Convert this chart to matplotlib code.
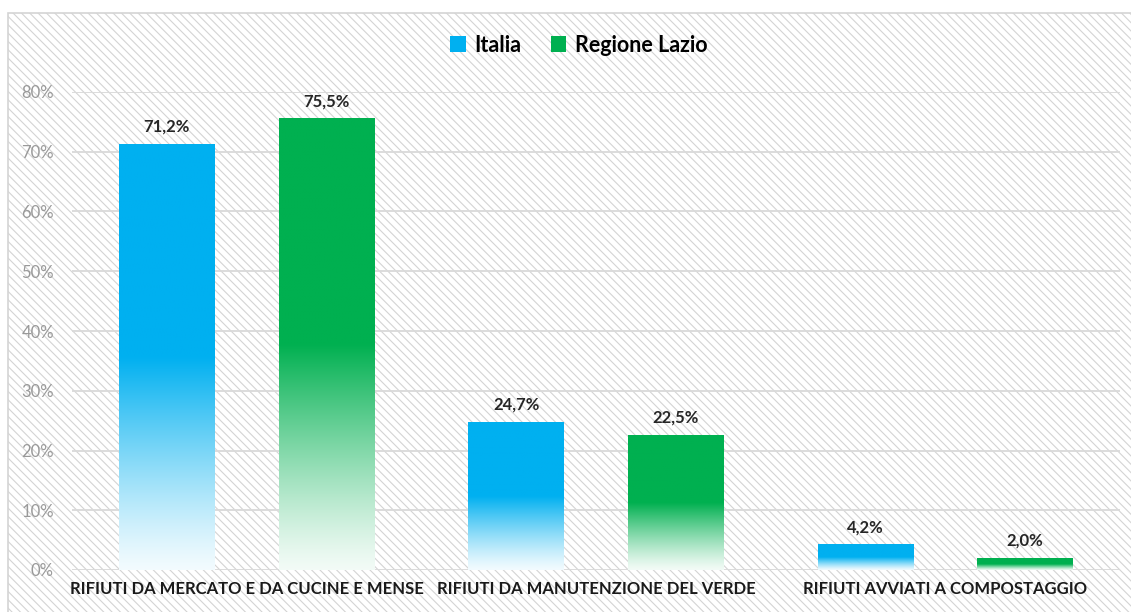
import numpy as np
import matplotlib.pyplot as plt
from matplotlib.patches import Patch, Rectangle
from matplotlib.colors import to_rgb

plt.rcParams['font.family'] = ['Lato', 'DejaVu Sans']
plt.rcParams['hatch.linewidth'] = 0.8
plt.rcParams['hatch.color'] = '#cccccc'

# data
categories = ['RIFIUTI DA MERCATO E DA CUCINE E MENSE',
              'RIFIUTI DA MANUTENZIONE DEL VERDE',
              'RIFIUTI AVVIATI A COMPOSTAGGIO']
italia = [71.2, 24.7, 4.2]
lazio = [75.5, 22.5, 2.0]
series_names = ['Italia', 'Regione Lazio']
series_colors = ['#00B0F0', '#00B050']
yticks = [0, 10, 20, 30, 40, 50, 60, 70, 80]

W, H = 1131, 612
fig = plt.figure(figsize=(W / 100, H / 100), dpi=100)

# hatched chart area background
bg = Rectangle((8 / W, -0.01), 1 - 8 / W + 0.01, 1 - 13 / H + 0.01, transform=fig.transFigure,
               facecolor='white', edgecolor='#d4d4d4', hatch='\\' * 4,
               linewidth=1.2, zorder=0)
fig.patches.append(bg)

ax = fig.add_axes([72 / W, 1 - 570 / H, (1120 - 72) / W, (570 - 92) / H])
ax.set_facecolor('none')
ax.set_zorder(2)

x = np.arange(len(categories))
bw = 0.273
off = 0.2285


def gradient_bar(ax, bars, color):
    rgb = np.array(to_rgb(color))
    n = 200
    t = np.linspace(0, 1, n)  # 0 bottom, 1 top
    frac = np.clip(t / 0.5, 0, 1) ** 1.2
    light = rgb * 0.05 + np.array([1, 1, 1]) * 0.95
    cols = light[None, :] * (1 - frac[:, None]) + rgb[None, :] * frac[:, None]
    img = cols[:, None, :]
    for b in bars:
        x0, w, h = b.get_x(), b.get_width(), b.get_height()
        ax.imshow(img, extent=[x0, x0 + w, 0, h], origin='lower',
                  aspect='auto', zorder=3, interpolation='bilinear')


for vals, sgn, col in [(italia, -1, series_colors[0]), (lazio, 1, series_colors[1])]:
    bars = ax.bar(x + sgn * off, vals, bw, color='none', edgecolor='none', zorder=3)
    gradient_bar(ax, bars, col)
    for b, v in zip(bars, vals):
        ax.annotate(f'{v:.1f}%'.replace('.', ','),
                    (b.get_x() + b.get_width() / 2, b.get_height()),
                    xytext=(0, 7), textcoords='offset points',
                    ha='center', va='bottom', fontsize=12, fontweight='bold',
                    color='#262626', zorder=5)

ax.set_xlim(-0.5, 2.5)
ax.set_ylim(0, 80)
ax.set_yticks(yticks)
ax.set_yticklabels([f'{v}%' for v in yticks], color='#999999', fontsize=12)
ax.set_xticks(x)
ax.set_xticklabels(categories, fontsize=12, fontweight='bold', color='#1a1a1a')
ax.tick_params(axis='y', length=0, pad=13)
ax.tick_params(axis='x', length=0, pad=8)
ax.grid(axis='y', color='#d9d9d9', linewidth=1.3, zorder=1)
ax.set_axisbelow(True)
for s in ax.spines.values():
    s.set_visible(False)

handles = [Patch(facecolor=c, label=n) for n, c in zip(series_names, series_colors)]
leg = fig.legend(handles=handles, loc='center', bbox_to_anchor=(579 / W, 1 - 45 / H),
                 ncol=2, frameon=False, prop={'weight': 'bold', 'size': 15.5},
                 handlelength=0.7, handleheight=0.7, handletextpad=0.4, columnspacing=1.4)
leg.set_zorder(3)

fig.savefig('out.png', dpi=100)
